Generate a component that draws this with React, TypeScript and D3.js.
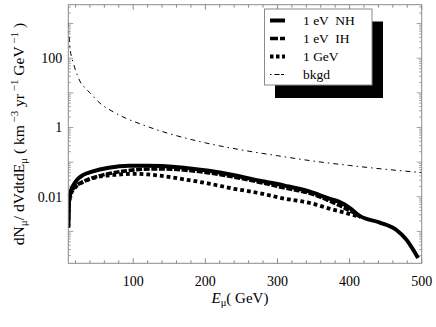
import React from 'react';
import * as d3 from 'd3';

// energies (GeV) and fluxes
const nhE = [10, 10.5, 11, 12, 13, 15, 20, 24, 30, 43, 66, 94, 120, 140, 170, 205, 240, 276, 310, 345, 372, 385, 400, 414, 442, 465, 479, 488, 495];
const nhV = [0.0013, 0.004, 0.007, 0.011, 0.014, 0.018, 0.027, 0.034, 0.042, 0.053, 0.069, 0.079, 0.079, 0.077, 0.069, 0.056, 0.042, 0.029, 0.021, 0.014, 0.0088, 0.0072, 0.0048, 0.0028, 0.0018, 0.0011, 0.00057, 0.0003, 0.00017];

const ihE = [10, 10.5, 11, 12, 13, 15, 20, 29, 40, 57, 85, 112, 140, 170, 205, 240, 276, 310, 345, 372, 386, 400, 414];
const ihV = [0.0013, 0.0038, 0.0065, 0.0095, 0.012, 0.015, 0.02, 0.026, 0.033, 0.042, 0.054, 0.062, 0.064, 0.059, 0.049, 0.037, 0.026, 0.018, 0.0125, 0.0076, 0.0056, 0.004, 0.0027];

const gevE = [10, 10.5, 11, 12, 13, 15, 20, 29, 43, 60, 75, 100, 120, 140, 170, 205, 240, 276, 310, 345, 373, 395, 415];
const gevV = [0.0013, 0.0036, 0.006, 0.009, 0.011, 0.014, 0.019, 0.026, 0.034, 0.04, 0.043, 0.046, 0.044, 0.04, 0.032, 0.024, 0.017, 0.0126, 0.0088, 0.0066, 0.0045, 0.0034, 0.0026];

const bkE = [10, 11, 12, 14, 17, 20, 26, 33, 40, 54, 72, 91, 114, 137, 155, 200, 250, 300, 350, 400, 450, 500];
const bkV = [1100, 450, 230, 120, 72, 45, 22, 14, 10, 5.0, 2.85, 1.8, 1.18, 0.8, 0.62, 0.36, 0.225, 0.153, 0.107, 0.08, 0.062, 0.05];

const xTickLabels = [100, 200, 300, 400, 500];
const yTickLabels = [100, 1, 0.01];
const legendLabels = ['1 eV  NH', '1 eV  IH', '1 GeV', 'bkgd'];

const W = 436;
const H = 327;
const L = 68.3, R = 421.7, T = 4.7, B = 263.3;

export default function App() {
  const x = d3.scaleLinear().domain([10, 500]).range([L, R]);
  const y = d3.scaleLog().domain([1.2e-4, 3500]).range([B, T]);

  const line = d3
    .line<[number, number]>()
    .x(d => x(d[0]))
    .y(d => y(d[1]))
    .curve(d3.curveMonotoneX);

  const zip = (a: number[], b: number[]) => a.map((e, i) => [e, b[i]] as [number, number]);

  const series = [
    { d: zip(nhE, nhV), w: 4, dash: 'none' },
    { d: zip(ihE, ihV), w: 3.6, dash: '6,1.6' },
    { d: zip(gevE, gevV), w: 3.8, dash: '3.8,3' },
    { d: zip(bkE, bkV), w: 1, dash: '5,4,1.5,4' },
  ];

  // x ticks: majors every 100, minors every 20
  const xMinor = d3.range(20, 500, 20).filter(v => v % 100 !== 0);
  // y ticks: 1..9 x 10^k
  const yTicks: { v: number; major: boolean }[] = [];
  for (let k = -4; k <= 3; k++) {
    for (let m = 1; m <= 9; m++) {
      const v = m * Math.pow(10, k);
      if (v >= 1.2e-4 && v <= 3500) yTicks.push({ v, major: m === 1 });
    }
  }

  const frame = '#8a8a8a';
  const font = '"Liberation Serif", "Times New Roman", serif';

  return (
    <svg width={W} height={H} style={{ position: 'absolute', left: 0, top: 0, background: '#fff' }} fontFamily={font}>
      <defs>
        <clipPath id="plot">
          <rect x={L} y={T} width={R - L} height={B - T} />
        </clipPath>
      </defs>

      {/* x ticks, bottom and top */}
      {xTickLabels.map(v => (
        <g key={'xm' + v}>
          <line x1={x(v)} x2={x(v)} y1={B} y2={B - 5} stroke={frame} />
          <line x1={x(v)} x2={x(v)} y1={T} y2={T + 5} stroke={frame} />
          <text x={x(v)} y={B + 23} textAnchor="middle" fontSize={14}>{v}</text>
        </g>
      ))}
      {xMinor.map(v => (
        <g key={'xn' + v}>
          <line x1={x(v)} x2={x(v)} y1={B} y2={B - 3} stroke={frame} />
          <line x1={x(v)} x2={x(v)} y1={T} y2={T + 3} stroke={frame} />
        </g>
      ))}

      {/* y ticks, left and right */}
      {yTicks.map(t => (
        <g key={'y' + t.v}>
          <line x1={L} x2={L + (t.major ? 5 : 2.5)} y1={y(t.v)} y2={y(t.v)} stroke={frame} strokeWidth={0.8} />
          <line x1={R} x2={R - (t.major ? 5 : 2.5)} y1={y(t.v)} y2={y(t.v)} stroke={frame} strokeWidth={0.8} />
        </g>
      ))}
      {yTickLabels.map(v => (
        <text key={'yl' + v} x={L - 6} y={y(v) + 5} textAnchor="end" fontSize={14}>{v}</text>
      ))}

      {/* curves */}
      <g clipPath="url(#plot)">
        {series.map((s, i) => (
          <path key={i} d={line(s.d) || ''} fill="none" stroke="#000" strokeWidth={s.w} strokeDasharray={s.dash} />
        ))}
      </g>

      <rect x={L} y={T} width={R - L} height={B - T} fill="none" stroke={frame} strokeWidth={1} />

      {/* legend */}
      <rect x={275} y={21.5} width={108} height={76.5} fill="#000" />
      <rect x={264.5} y={9} width={107.5} height={76} fill="#fff" stroke={frame} strokeWidth={1} />
      {legendLabels.map((lab, i) => {
        const yy = 20.5 + i * 18;
        const s = series[i];
        return (
          <g key={lab}>
            <line x1={270} x2={285} y1={yy} y2={yy} stroke="#000" strokeWidth={i === 3 ? 1 : s.w} strokeDasharray={i === 1 ? '8,2' : i === 2 ? '3.5,2.5' : i === 3 ? '1.5,3,5' : 'none'} />
            <text x={303} y={yy + 4.5} fontSize={13.5} style={{ whiteSpace: 'pre' }}>{lab}</text>
          </g>
        );
      })}

      {/* axis titles */}
      <text x={W / 2 + 22} y={303} textAnchor="middle" fontSize={15}>
        <tspan fontStyle="italic">E</tspan>
        <tspan fontSize={10.5} dy={3}>μ</tspan>
        <tspan dy={-3}>( GeV)</tspan>
      </text>
      <text transform={`translate(24, ${(T + B) / 2}) rotate(-90)`} textAnchor="middle" fontSize={15.5}>
        <tspan>dN</tspan>
        <tspan fontSize={11} dy={3}>μ</tspan>
        <tspan dy={-3}>/ dVdtdE</tspan>
        <tspan fontSize={11} dy={3}>μ</tspan>
        <tspan dy={-3}>{' ( km'}</tspan>
        <tspan fontSize={11} dy={-6}>{' −3'}</tspan>
        <tspan dy={6}>{' yr'}</tspan>
        <tspan fontSize={11} dy={-6}>{' −1'}</tspan>
        <tspan dy={6}>{' GeV'}</tspan>
        <tspan fontSize={11} dy={-6}>{' −1'}</tspan>
        <tspan dy={6}>{' )'}</tspan>
      </text>
    </svg>
  );
}
